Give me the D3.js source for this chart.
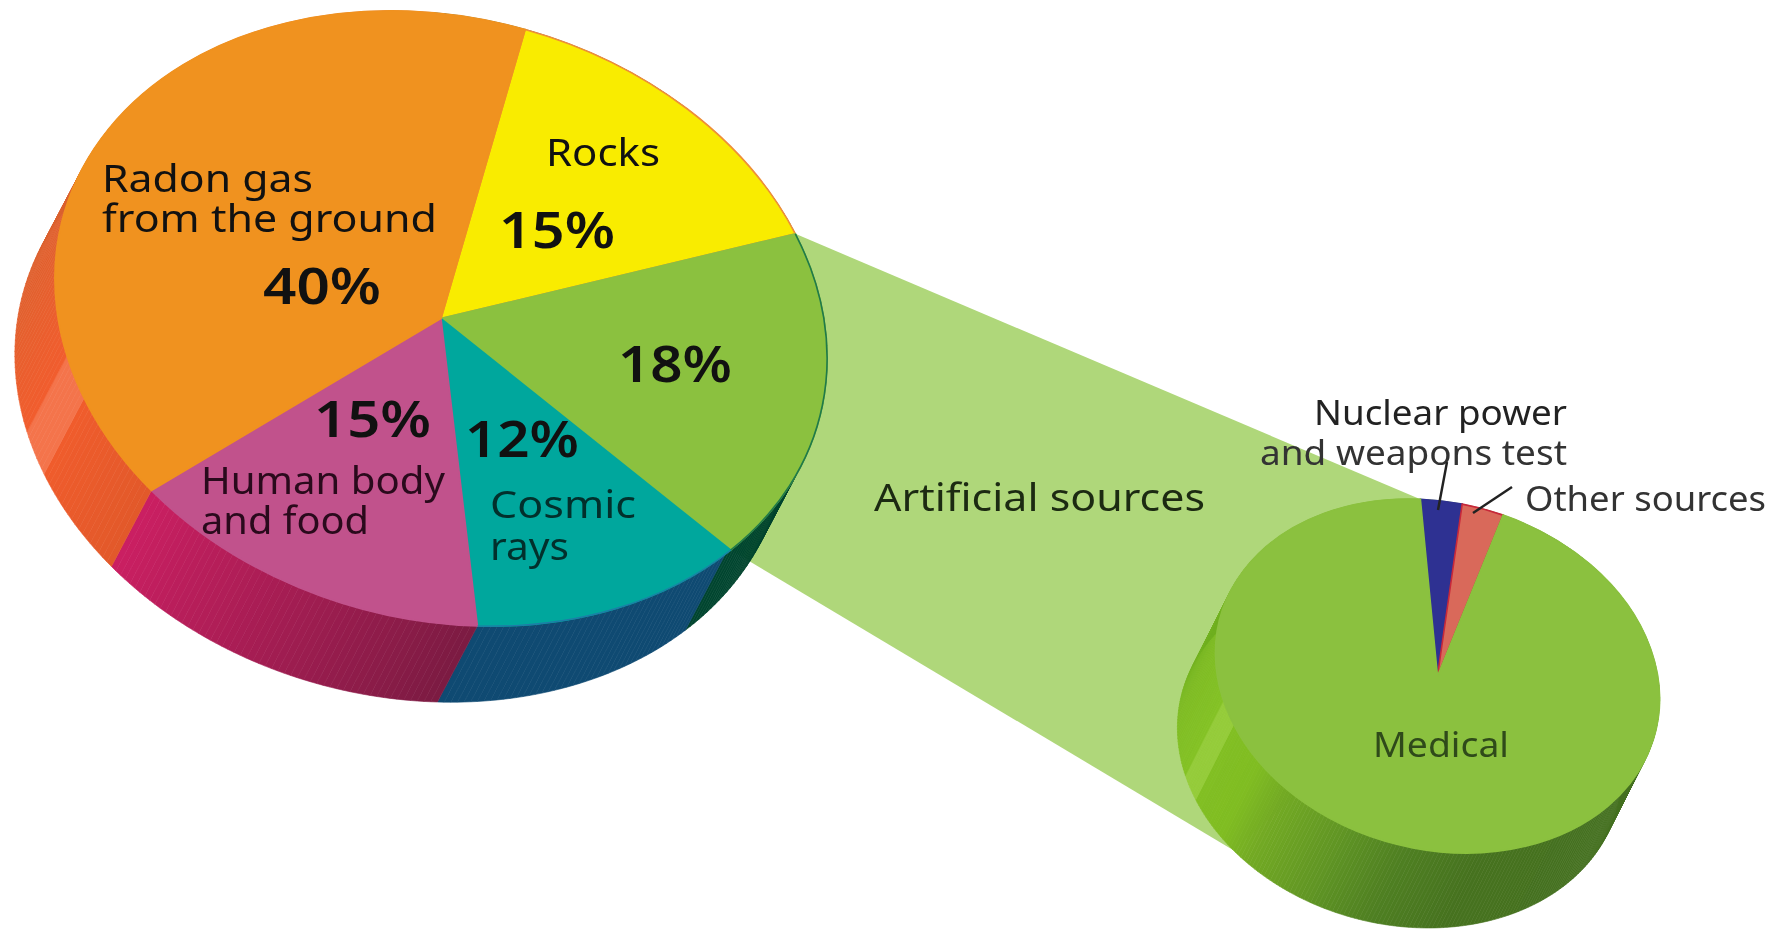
<!DOCTYPE html>
<html>
<head>
<meta charset="utf-8">
<script src="https://cdn.jsdelivr.net/npm/d3@7"></script>
<style>
    html, body { margin: 0; padding: 0; background: #fff; overflow: hidden; }
    text { font-family: "Noto Sans", "Open Sans", sans-serif; }
</style>
</head>
<body>
<div id="chart"></div>
<script>
// main pie, clockwise from the rocks slice
const mainNames = ["Rocks", "Artificial sources", "Cosmic rays", "Human body and food", "Radon gas from the ground"];
const mainValues = [15, 18, 12, 15, 40];
const mainColors = ["#f9ec00", "#8bc13f", "#00a79d", "#c1528c", "#f0921f"];
const mainEdges = ["#ef8f38", "#8bc13f", "#00a79d", "#c1528c", "#f0921f"];

// small pie, the artificial sources broken down
const smallNames = ["Nuclear power and weapons test", "Other sources", "Medical"];
const smallValues = [3, 3, 94];
const smallColors = ["#2e3192", "#d9695a", "#8bc13f"];

// side wall shading, by angle round the pie in degrees
const wallAngles = [60, 134, 134.01, 176, 176.01, 229.99, 230, 248.9, 249, 257, 257.1, 275, 300, 340];
const mainWall = ["#00452f", "#00452f", "#0f4a72", "#0f4a72", "#7b1b42", "#cb1f62", "#e2592a", "#f05c2c", "#f4744b", "#f4744b", "#f15d2e", "#e4602e", "#d9612f", "#d9612f"];
const smallWallAngles = [60, 130, 170, 190, 205, 225, 234.9, 235, 247.9, 248, 256, 256.1, 275, 300];
const smallWall = ["#457120", "#457120", "#46721f", "#4f8022", "#5f9424", "#74ab24", "#80bd22", "#80bd22", "#82bf23", "#95cc3a", "#95cc3a", "#84c225", "#7fbc24", "#6faf1f"];

const width = 1777, height = 930;
const toRad = d3.scaleLinear().domain([0, 180]).range([0, Math.PI]);

const svg = d3.select("#chart").append("svg")
    .attr("width", width)
    .attr("height", height)
    .style("display", "block")
    .style("filter", "blur(0.7px)");

// each pie is a flat circle pushed through a slightly skewed matrix
const mainPie = { x: 441, y: 318.5, a: 386, b: 9.5, c: 32.3, d: 306, dx: -40, dy: 76, start: 14 };
const smallPie = { x: 1437.5, y: 676, a: 222, b: 5.5, c: 18.6, d: 176, dx: -38, dy: 75, start: -3 };

function project(p, deg, wall) {
    let u = Math.sin(toRad(deg)), v = -Math.cos(toRad(deg));
    let px = p.x + p.a * u + p.b * v;
    let py = p.y + p.c * u + p.d * v;
    return wall ? [px + p.dx, py + p.dy] : [px, py];
}

function boundaries(p, values) {
    let total = d3.sum(values), run = p.start, out = [];
    values.forEach(v => { out.push(run); run += v / total * 360; });
    return out;
}

// connector band, goes behind both pies
let mainB = boundaries(mainPie, mainValues);
let smallB = boundaries(smallPie, smallValues);
svg.append("path")
    .attr("fill", "#afd77a")
    .attr("d", d3.line()([
        project(mainPie, mainB[1]),
        project(smallPie, smallB[0]),
        [smallPie.x, smallPie.y],
        project(smallPie, 230, true),
        project(mainPie, mainB[2]),
        [mainPie.x, mainPie.y]
    ]) + "Z");

function drawWall(p, angles, colors) {
    let shade = d3.scaleLinear().domain(angles).range(colors).clamp(true);
    let g = svg.append("g");
    d3.range(0, 360, 1).forEach(i => {
        let a0 = i, a1 = i + 1;
        g.append("path")
            .attr("d", d3.line()([project(p, a0), project(p, a1), project(p, a1, true), project(p, a0, true)]) + "Z")
            .attr("fill", shade(a0 + 0.5))
            .attr("stroke", shade(a0 + 0.5))
            .attr("stroke-width", 0.6);
    });
}

function drawTop(p, values, colors, edges) {
    let slices = d3.pie().sort(null).value(d => d)
        .startAngle(toRad(p.start)).endAngle(toRad(p.start + 360))(values);
    let arc = d3.arc().innerRadius(0).outerRadius(100);
    let g = svg.append("g")
        .attr("transform", `matrix(${p.a / 100},${p.c / 100},${p.b / 100},${p.d / 100},${p.x},${p.y})`);
    g.selectAll("path")
        .data(slices)
        .enter().append("path")
        .attr("d", arc)
        .attr("fill", (d, i) => colors[i])
        .attr("stroke", (d, i) => edges[i])
        .attr("stroke-width", 1.6)
        .attr("vector-effect", "non-scaling-stroke");
    return { g, slices };
}

drawWall(mainPie, wallAngles, mainWall);
drawWall(smallPie, smallWallAngles, smallWall);
let mainTop = drawTop(mainPie, mainValues, mainColors, mainEdges);
let smallTop = drawTop(smallPie, smallValues, smallColors, ["#2e3192", "#c8283a", "#8bc13f"]);

// thin rims along the outer edge
let rim = d3.arc().innerRadius(100).outerRadius(100);
mainTop.g.append("path")
    .datum(mainTop.slices[1])
    .attr("d", rim)
    .attr("fill", "none")
    .attr("stroke", "#1f7a4a")
    .attr("stroke-width", 1.6)
    .attr("vector-effect", "non-scaling-stroke");
mainTop.g.append("path")
    .datum(mainTop.slices[2])
    .attr("d", rim)
    .attr("fill", "none")
    .attr("stroke", "#1f7aa8")
    .attr("stroke-width", 1.2)
    .attr("vector-effect", "non-scaling-stroke");

// labels: x, baseline, size, anchor, weight, colour, width on the page
const labelText = ["Radon gas", "from the ground", "40%", "Rocks", "15%", "18%", "15%", "12%", "Human body", "and food", "Cosmic", "rays", "Artificial sources", "Nuclear power", "and weapons test", "Other sources", "Medical"];
const labelPlace = [
    [102, 192, 39, "start", 400, "#111", 211], [102, 232, 39, "start", 400, "#111", 335], [322, 304, 50, "middle", 600, "#111", 118],
    [546, 166, 39, "start", 400, "#111", 114], [499, 248, 50, "start", 600, "#111", 116], [618, 382, 50, "start", 600, "#111", 114],
    [314, 437, 50, "start", 600, "#111", 117], [465, 457, 50, "start", 600, "#111", 114], [201, 494, 39, "start", 400, "#2a0a1c", 244],
    [201, 534, 39, "start", 400, "#2a0a1c", 168], [490, 518, 39, "start", 400, "#02302c", 146], [490, 560, 39, "start", 400, "#02302c", 79],
    [874, 511, 39, "start", 400, "#1c2a12", 331], [1567, 425, 35, "end", 400, "#222", 253], [1567, 465, 35, "end", 400, "#333", 307],
    [1525, 511, 35, "start", 400, "#333", 241], [1441, 757, 35, "middle", 400, "#2f4a1a", 136]
];
svg.append("g").selectAll("text")
    .data(labelText)
    .enter().append("text")
    .text(d => d)
    .attr("x", (d, i) => labelPlace[i][0])
    .attr("y", (d, i) => labelPlace[i][1])
    .attr("font-size", (d, i) => labelPlace[i][2])
    .attr("text-anchor", (d, i) => labelPlace[i][3])
    .attr("font-weight", (d, i) => labelPlace[i][4])
    .attr("fill", (d, i) => labelPlace[i][5])
    .attr("textLength", (d, i) => labelPlace[i][6])
    .attr("lengthAdjust", "spacingAndGlyphs");

// leader lines for the two thin slices
const leaders = [[[1447, 462], [1438, 510]], [[1512, 487], [1473, 513]]];
svg.selectAll(".leader")
    .data(leaders)
    .enter().append("path")
    .attr("class", "leader")
    .attr("d", d => d3.line()(d))
    .attr("stroke", "#222")
    .attr("stroke-width", 2.4)
    .attr("fill", "none");
</script>
</body>
</html>
